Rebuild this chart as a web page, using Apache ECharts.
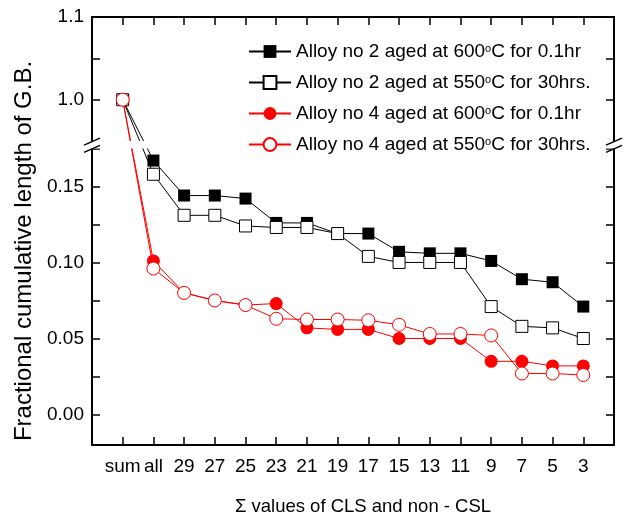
<!DOCTYPE html>
<html><head><meta charset="utf-8">
<script src="https://cdn.jsdelivr.net/npm/echarts@6/dist/echarts.min.js"></script>
<style>html,body{margin:0;padding:0;background:#fff}#c{width:631px;height:521px}</style>
</head><body><div id="c"></div>
<script>
const categories = ['sum','all','29','27','25','23','21','19','17','15','13','11','9','7','5','3'];
const alloy2_600 = [1.0,0.167,0.144,0.144,0.142,0.126,0.126,0.119,0.119,0.107,0.106,0.106,0.101,0.089,0.087,0.071];
const alloy2_550 = [1.0,0.158,0.131,0.131,0.124,0.123,0.123,0.119,0.104,0.100,0.100,0.100,0.071,0.058,0.057,0.050];
const alloy4_600 = [1.0,0.101,0.080,0.075,0.072,0.073,0.057,0.056,0.056,0.050,0.050,0.050,0.035,0.035,0.032,0.032];
const alloy4_550 = [1.0,0.096,0.080,0.075,0.072,0.063,0.0625,0.0625,0.062,0.059,0.053,0.053,0.052,0.027,0.027,0.026];
const seriesNames = [
  'Alloy no 2 aged at 600°C for 0.1hr',
  'Alloy no 2 aged at 550°C for 30hrs.',
  'Alloy no 4 aged at 600°C for 0.1hr',
  'Alloy no 4 aged at 550°C for 30hrs.'
];
const yTickValues = [0, 0.05, 0.10, 0.15, 1.0, 1.1];
const yTickLabels = ['0.00','0.05','0.10','0.15','1.0','1.1'];
const yMinorTicks = [0.025, 0.075, 0.125, 0.175, 1.05];

// broken axis: lower segment [-0.02, 0.175], upper segment [0.95, 1.1] drawn at a smaller scale
const LOW_MIN = -0.02, LOW_MAX = 0.175, HIGH_MIN = 0.95, HIGH_MAX = 1.1;
const GAP = 0.0048, K = 0.5438;
function toAxis(v){ return v >= HIGH_MIN ? LOW_MAX + GAP + (v - HIGH_MIN) * K : v; }
const AX_MAX = toAxis(HIGH_MAX);

const FONT = 'Liberation Sans';
const catIdx = categories.map((c, i) => i + 1);
const yTickAxis = yTickValues.map(toAxis);
const yAllTicks = yTickValues.concat(yMinorTicks).map(toAxis);

function mk(vals){ return vals.map((v, i) => [i + 1, toAxis(v)]); }

const chart = echarts.init(document.getElementById('c'), null, {renderer: 'canvas'});
const frame = {onZero: false, lineStyle: {color: '#000', width: 2}};
const tick = {inside: true, length: 8, lineStyle: {color: '#000', width: 1.5}};

const option = {
  animation: false,
  backgroundColor: '#fff',
  textStyle: {fontFamily: FONT},
  grid: {left: 92, right: 17, top: 17, bottom: 69},
  legend: {
    orient: 'vertical', left: 243, top: 37, z: 10,
    itemWidth: 42, itemHeight: 16, itemGap: 12,
    data: seriesNames,
    formatter: n => n.replace('°', '{sup|o}'),
    textStyle: {fontFamily: FONT, fontSize: 19, color: '#000', lineHeight: 16,
      rich: {sup: {fontSize: 11, verticalAlign: 'top', lineHeight: 16, fontFamily: FONT, color: '#000'}}}
  },
  xAxis: [{
    type: 'value', min: 0, max: 17, position: 'bottom',
    axisLine: frame, axisTick: Object.assign({customValues: catIdx}, tick),
    axisLabel: {customValues: catIdx, formatter: v => categories[Math.round(v) - 1] || '',
      fontSize: 19, color: '#000', margin: 12, fontFamily: FONT},
    splitLine: {show: false},
    name: 'Σ values of CLS and non - CSL', nameLocation: 'middle', nameGap: 52,
    nameTextStyle: {fontSize: 18.5, color: '#000', fontFamily: FONT, padding: [0, 0, 0, 20]}
  }, {
    type: 'value', min: 0, max: 17, position: 'top',
    axisLine: frame, axisTick: Object.assign({customValues: catIdx}, tick),
    axisLabel: {show: false}, splitLine: {show: false}
  }],
  yAxis: [{
    type: 'value', min: LOW_MIN, max: AX_MAX, position: 'left',
    axisLine: frame, axisTick: Object.assign({customValues: yAllTicks}, tick),
    axisLabel: {customValues: yTickAxis, fontSize: 19, color: '#000', margin: 8, fontFamily: FONT,
      formatter: v => {
        let best = 0;
        yTickAxis.forEach((t, i) => { if (Math.abs(t - v) < Math.abs(yTickAxis[best] - v)) best = i; });
        return yTickLabels[best];
      }},
    splitLine: {show: false},
    name: 'Fractional cumulative length of G.B.', nameLocation: 'middle', nameGap: 46,
    nameTextStyle: {fontSize: 24, color: '#000', fontFamily: FONT, padding: [0, 40, 0, 0]}
  }, {
    type: 'value', min: LOW_MIN, max: AX_MAX, position: 'right',
    axisLine: frame, axisTick: Object.assign({customValues: yAllTicks}, tick),
    axisLabel: {show: false}, splitLine: {show: false}
  }],
  series: [
    {name: seriesNames[0], type: 'line', data: mk(alloy2_600), symbol: 'rect', symbolSize: 12,
      lineStyle: {color: '#000', width: 1}, itemStyle: {color: '#000'}},
    {name: seriesNames[1], type: 'line', data: mk(alloy2_550), symbol: 'rect', symbolSize: 12,
      lineStyle: {color: '#000', width: 1}, itemStyle: {color: '#fff', borderColor: '#000', borderWidth: 1}},
    {name: seriesNames[2], type: 'line', data: mk(alloy4_600), symbol: 'circle', symbolSize: 13,
      lineStyle: {color: '#ff0000', width: 1}, itemStyle: {color: '#ff0000'}},
    {name: seriesNames[3], type: 'line', data: mk(alloy4_550), symbol: 'circle', symbolSize: 13,
      lineStyle: {color: '#ff0000', width: 1}, itemStyle: {color: '#fff', borderColor: '#ff0000', borderWidth: 1}}
  ]
};
chart.setOption(option);

// axis break decoration, positioned from the axis scales (below the legend, above series and axes)
const yA = chart.convertToPixel({yAxisIndex: 0}, toAxis(HIGH_MIN));
const yB = chart.convertToPixel({yAxisIndex: 0}, LOW_MAX);
const xL = chart.convertToPixel({xAxisIndex: 0}, 0);
const xR = chart.convertToPixel({xAxisIndex: 0}, 17);
const brk = [];
brk.push({type: 'rect', z: 5, shape: {x: xL - 2, y: yA, width: xR - xL + 4, height: yB - yA},
  style: {fill: '#fff'}, silent: true});
[xL, xR].forEach(x => {
  [yA + 0.5, yB + 0.5].forEach(y => {
    brk.push({type: 'line', z: 6, shape: {x1: x - 8, y1: y + 3.5, x2: x + 8, y2: y - 3.5},
      style: {stroke: '#000', lineWidth: 1.5}, silent: true});
  });
});
chart.setOption({graphic: brk});
</script>
</body></html>
